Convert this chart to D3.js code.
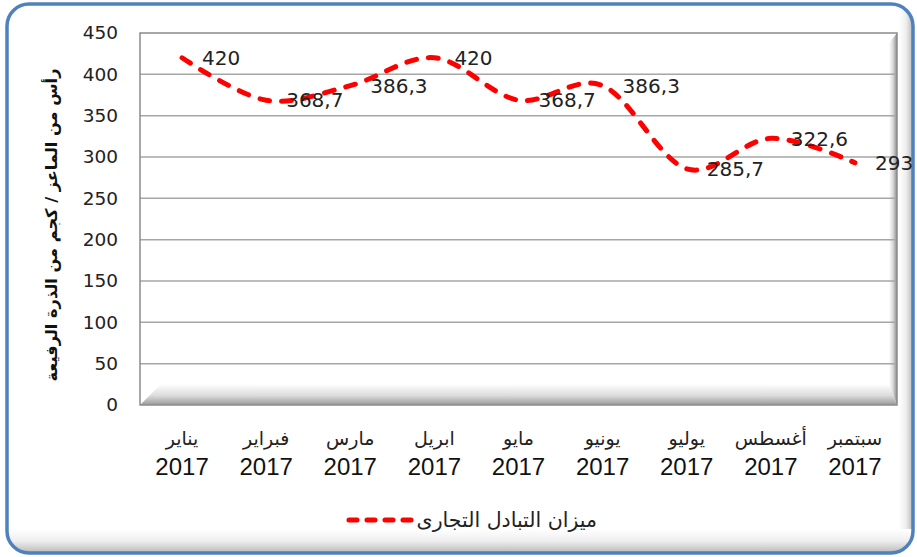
<!DOCTYPE html>
<html><head><meta charset="utf-8">
<script src="https://cdn.jsdelivr.net/npm/d3@7"></script>
<style>html,body{margin:0;padding:0;background:#fff;}svg{display:block;}</style>
</head><body>
<script>
const months = ["يناير","فبراير","مارس","ابريل","مايو","يونيو","يوليو","أغسطس","سبتمبر"];
const years = ["2017","2017","2017","2017","2017","2017","2017","2017","2017"];
const values = [420, 368.7, 386.3, 420, 368.7, 386.3, 285.7, 322.6, 293];
const valueLabels = ["420","368,7","386,3","420","368,7","386,3","285,7","322,6","293"];
const yTicks = [0,50,100,150,200,250,300,350,400,450];
const seriesName = "ميزان التبادل التجارى";
const yTitle = "رأس من الماعز / كجم من الذرة الرفيعة";

const W = 917, H = 557;
const svg = d3.select("body").append("svg").attr("width", W).attr("height", H);
const defs = svg.append("defs");

function lg(id, x1,y1,x2,y2, stops){
  const g = defs.append("linearGradient").attr("id",id).attr("x1",x1).attr("y1",y1).attr("x2",x2).attr("y2",y2);
  stops.forEach(s=>g.append("stop").attr("offset",s[0]).attr("stop-color",s[1]));
}
lg("outerB","0","0","0","1",[["0","#ffffff"],["0.5","#eeeeee"],["1","#b9b9b9"]]);
lg("outerR","0","0","1","0",[["0","#ffffff"],["0.5","#eeeeee"],["1","#b9b9b9"]]);
lg("floor","0","0","0","1",[["0","#ffffff"],["0.55","#dcdcdc"],["1","#9a9a9a"]]);
lg("wallR","0","0","1","0",[["0","#ffffff"],["0.5","#d8d8d8"],["1","#8c8c8c"]]);

// outer frame
const fx=7, fy=4, fw=906, fh=549, fr=22;
defs.append("clipPath").attr("id","frameClip").append("rect")
  .attr("x",fx).attr("y",fy).attr("width",fw).attr("height",fh).attr("rx",fr);
svg.append("rect").attr("x",fx).attr("y",fy).attr("width",fw).attr("height",fh).attr("rx",fr).attr("fill","#fff");
const fg = svg.append("g").attr("clip-path","url(#frameClip)");
fg.append("rect").attr("x",fx).attr("y",fy+fh-24).attr("width",fw).attr("height",24).attr("fill","url(#outerB)");
fg.append("rect").attr("x",fx+fw-14).attr("y",fy).attr("width",14).attr("height",fh-24).attr("fill","url(#outerR)");
svg.append("rect").attr("x",fx).attr("y",fy).attr("width",fw).attr("height",fh).attr("rx",fr)
  .attr("fill","none").attr("stroke","#4f81bd").attr("stroke-width",3.5);

// plot area
const pl=140, pr=897, pt=33, pb=405;
const x = d3.scaleBand().domain(d3.range(months.length)).range([pl,pr]);
const y = d3.scaleLinear().domain([0,450]).range([pb,pt]);
const cx = i => x(i) + x.bandwidth()/2;

svg.append("rect").attr("x",pl).attr("y",pt).attr("width",pr-pl).attr("height",pb-pt).attr("fill","#fff");
svg.append("path").attr("d",`M${pl},${pb}L${pr},${pb}L${pr-8},${pb-21}L${pl+21},${pb-21}Z`).attr("fill","url(#floor)");
svg.append("path").attr("d",`M${pr},${pt}L${pr},${pb}L${pr-8},${pb-21}L${pr-8},${pt+10}Z`).attr("fill","url(#wallR)");

svg.append("g").selectAll("line").data(yTicks.filter(d=>d>0 && d<450)).join("line")
  .attr("x1",pl).attr("x2",pr).attr("y1",d=>y(d)).attr("y2",d=>y(d))
  .attr("stroke","#a6a6a6").attr("stroke-width",1.5);
svg.append("path").attr("d",`M${pl},${pb}L${pl},${pt}L${pr},${pt}L${pr},${pb}Z`)
  .attr("fill","none").attr("stroke","#8c8c8c").attr("stroke-width",1.5);

const yAxis = d3.axisLeft(y).tickValues(yTicks).tickSize(0).tickPadding(0);
const ya = svg.append("g").attr("transform",`translate(118,0)`).call(yAxis);
ya.select(".domain").remove();
ya.selectAll("text").attr("font-family","DejaVu Sans, sans-serif").attr("font-size",18.5).attr("fill","#222");

svg.append("text").attr("transform","translate(51,225) rotate(-90)")
  .attr("text-anchor","middle").attr("dy","0.35em")
  .attr("font-family","DejaVu Sans, sans-serif").attr("font-weight","bold").attr("font-size",16.2)
  .attr("fill","#111").text(yTitle);

const xl = svg.append("g");
xl.selectAll("text.m").data(months).join("text").attr("class","m")
  .attr("x",(d,i)=>cx(i)).attr("y",445).attr("text-anchor","middle")
  .attr("font-family","DejaVu Sans, sans-serif").attr("font-size",19).attr("fill","#222").text(d=>d);
xl.selectAll("text.yr").data(years).join("text").attr("class","yr")
  .attr("x",(d,i)=>cx(i)).attr("y",475).attr("text-anchor","middle")
  .attr("font-family","Liberation Sans, Arial, sans-serif").attr("font-size",24).attr("fill","#111").text(d=>d);

const line = d3.line().x((d,i)=>cx(i)).y(d=>y(d)).curve(d3.curveCatmullRom.alpha(0));
svg.append("path").datum(values).attr("d",line).attr("fill","none")
  .attr("stroke","#ff0000").attr("stroke-width",5).attr("stroke-dasharray","10,12").attr("stroke-linecap","round");

svg.append("g").selectAll("text").data(values).join("text")
  .attr("x",(d,i)=>cx(i)+20).attr("y",d=>y(d)).attr("dy","0.36em")
  .attr("font-family","DejaVu Sans, sans-serif").attr("font-size",20).attr("fill","#222")
  .text((d,i)=>valueLabels[i]);

svg.append("line").attr("x1",349).attr("x2",411).attr("y1",520).attr("y2",520)
  .attr("stroke","#ff0000").attr("stroke-width",5).attr("stroke-dasharray","8,10").attr("stroke-linecap","round");
svg.append("text").attr("x",597).attr("y",527).attr("text-anchor","end")
  .attr("font-family","DejaVu Sans, sans-serif").attr("font-size",20.5).attr("fill","#222").text(seriesName);
</script>
</body></html>
